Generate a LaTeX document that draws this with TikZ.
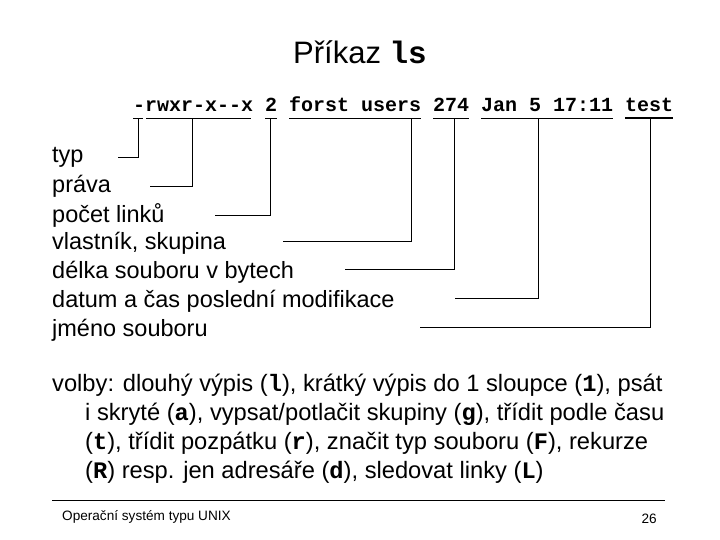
\documentclass[tikz,border=0pt]{standalone}
\usepackage{fontspec}
\setmainfont{Liberation Sans}
\setmonofont{Liberation Mono}
\newcommand{\cm}[1]{\texttt{\textbf{#1}}}
\begin{document}
\begin{tikzpicture}[x=1pt,y=-1pt,
  lbl/.style={anchor=west,inner sep=0pt,font=\fontsize{23.5}{27}\selectfont},
  opt/.style={anchor=west,inner sep=0pt,font=\fontsize{23.7}{27}\selectfont},
  ln/.style={line width=0.8pt}]
\useasboundingbox (0,0) rectangle (720,540);
\node[inner sep=0pt] (title) at (360,52) {\fontsize{31}{36}\selectfont Příkaz \cm{ls}};
\node[anchor=west,inner sep=0pt] (cmd) at (133,104) {\fontsize{20}{24}\selectfont\ttfamily\bfseries -rwxr-x--x 2 forst users 274 Jan 5 17:11 test};
\foreach \a/\b in {133/143,146/251,265/277,289/421,433/469,481/613}
  \draw[ln] (\a,118) -- (\b,118);
\draw[line width=1.8pt] (625,118) -- (673,118);
\node[lbl] (l1) at (52,157) {typ};
\node[lbl] (l2) at (52,186) {práva};
\node[lbl] (l3) at (52,215) {počet linků};
\node[lbl] (l4) at (52,243) {vlastník, skupina};
\node[lbl] (l5) at (52,272) {délka souboru v bytech};
\node[lbl] (l6) at (52,301) {datum a čas poslední modifikace};
\node[lbl] (l7) at (52,330) {jméno souboru};
\foreach \n/\s/\x/\y in {l1/118/138/157,l2/150/192/186,l3/215/270/215,l4/283/411/241,l5/345/454/269,l6/455/538/298,l7/420/650/327}
  \draw[ln] (\s,\y) -- (\x,\y) -- (\x,118);
\node[opt] (o1) at (52,385) {volby: dlouhý výpis (\cm{l}), krátký výpis do 1 sloupce (\cm{1}), psát};
\node[opt] (o2) at (85,414) {i skryté (\cm{a}), vypsat/potlačit skupiny (\cm{g}), třídit podle času};
\node[opt] (o3) at (85,443) {(\cm{t}), třídit pozpátku (\cm{r}), značit typ souboru (\cm{F}), rekurze};
\node[opt] (o4) at (85,472) {(\cm{R}) resp. jen adresáře (\cm{d}), sledovat linky (\cm{L})};
\draw[ln] (52,500) coordinate (fa) -- (665,500) coordinate (fb);
\node[anchor=west,inner sep=0pt] (f1) at (62,517) {\fontsize{13.6}{16}\selectfont Operační systém typu UNIX};
\node[anchor=east,inner sep=0pt] (f2) at (657,519) {\fontsize{13.6}{16}\selectfont 26};
\end{tikzpicture}
\end{document}
